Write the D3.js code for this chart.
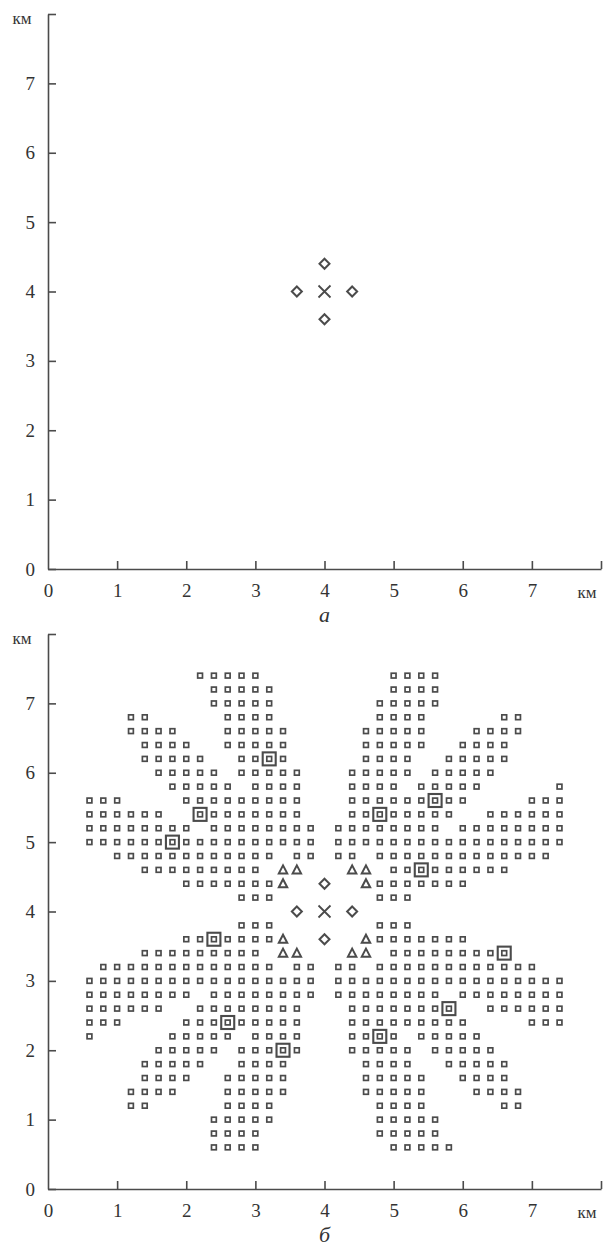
<!DOCTYPE html>
<html>
<head>
<meta charset="utf-8">
<script src="https://cdn.jsdelivr.net/npm/d3@7"></script>
<style>
  body { margin: 0; background: #fff; }
  svg { display: block; }
</style>
</head>
<body>
<svg id="chart" width="603" height="1247"></svg>
<script>
// tick labels (km)
var tickValues = [0, 1, 2, 3, 4, 5, 6, 7, 8];
var panelLabels = ["а", "б"];

// centre of the array and the four diamond points
var centre = [[4, 4]];
var diamonds = [[3.6, 4], [4.4, 4], [4, 4.4], [4, 3.6]];

// triangles around the centre (panel б)
var triangles = [
  [3.4, 4.6], [3.6, 4.6], [3.4, 4.4],
  [4.4, 4.6], [4.6, 4.6], [4.6, 4.4],
  [3.4, 3.6], [3.4, 3.4], [3.6, 3.4],
  [4.6, 3.6], [4.4, 3.4], [4.6, 3.4]
];

// big framed squares (panel б)
var bigSquares = [
  [3.2, 6.2], [2.2, 5.4], [1.8, 5.0], [5.6, 5.6], [4.8, 5.4], [5.4, 4.6],
  [2.4, 3.6], [2.6, 2.4], [3.4, 2.0], [4.8, 2.2], [5.8, 2.6], [6.6, 3.4]
];

// small squares, row by row: [y, x values]
var gridRows = [
  [7.4, [2.2, 2.4, 2.6, 2.8, 3.0, 5.0, 5.2, 5.4, 5.6]],
  [7.2, [2.4, 2.6, 2.8, 3.0, 3.2, 5.0, 5.2, 5.4, 5.6]],
  [7.0, [2.4, 2.6, 2.8, 3.0, 3.2, 4.8, 5.0, 5.2, 5.4, 5.6]],
  [6.8, [1.2, 1.4, 2.6, 2.8, 3.0, 3.2, 4.8, 5.0, 5.2, 5.4, 6.6, 6.8]],
  [6.6, [1.2, 1.4, 1.6, 1.8, 2.6, 2.8, 3.0, 3.2, 3.4, 4.6, 4.8, 5.0, 5.2, 5.4, 6.2, 6.4, 6.6, 6.8]],
  [6.4, [1.4, 1.6, 1.8, 2.0, 2.6, 2.8, 3.0, 3.2, 3.4, 4.6, 4.8, 5.0, 5.2, 5.4, 6.0, 6.2, 6.4, 6.6]],
  [6.2, [1.4, 1.6, 1.8, 2.0, 2.2, 2.8, 3.0, 3.2, 3.4, 4.6, 4.8, 5.0, 5.2, 5.8, 6.0, 6.2, 6.4, 6.6]],
  [6.0, [1.6, 1.8, 2.0, 2.2, 2.4, 2.8, 3.0, 3.2, 3.4, 3.6, 4.4, 4.6, 4.8, 5.0, 5.2, 5.6, 5.8, 6.0, 6.2, 6.4]],
  [5.8, [1.8, 2.0, 2.2, 2.4, 2.6, 3.0, 3.2, 3.4, 3.6, 4.4, 4.6, 4.8, 5.0, 5.4, 5.6, 5.8, 6.0, 6.2, 7.4]],
  [5.6, [0.6, 0.8, 1.0, 2.0, 2.2, 2.4, 2.6, 2.8, 3.0, 3.2, 3.4, 3.6, 4.4, 4.6, 4.8, 5.0, 5.2, 5.4, 5.6, 5.8, 6.0, 7.0, 7.2, 7.4]],
  [5.4, [0.6, 0.8, 1.0, 1.2, 1.4, 1.6, 2.2, 2.4, 2.6, 2.8, 3.0, 3.2, 3.4, 3.6, 4.4, 4.6, 4.8, 5.0, 5.2, 5.4, 5.6, 5.8, 6.4, 6.6, 6.8, 7.0, 7.2, 7.4]],
  [5.2, [0.6, 0.8, 1.0, 1.2, 1.4, 1.6, 1.8, 2.0, 2.4, 2.6, 2.8, 3.0, 3.2, 3.4, 3.6, 3.8, 4.2, 4.4, 4.6, 4.8, 5.0, 5.2, 5.4, 5.6, 6.0, 6.2, 6.4, 6.6, 6.8, 7.0, 7.2, 7.4]],
  [5.0, [0.6, 0.8, 1.0, 1.2, 1.4, 1.6, 1.8, 2.0, 2.2, 2.4, 2.6, 2.8, 3.0, 3.2, 3.4, 3.6, 3.8, 4.2, 4.4, 4.6, 4.8, 5.0, 5.2, 5.4, 5.6, 5.8, 6.0, 6.2, 6.4, 6.6, 6.8, 7.0, 7.2, 7.4]],
  [4.8, [1.0, 1.2, 1.4, 1.6, 1.8, 2.0, 2.2, 2.4, 2.6, 2.8, 3.0, 3.2, 3.6, 3.8, 4.2, 4.4, 4.8, 5.0, 5.2, 5.4, 5.6, 5.8, 6.0, 6.2, 6.4, 6.6, 6.8, 7.0, 7.2]],
  [4.6, [1.4, 1.6, 1.8, 2.0, 2.2, 2.4, 2.6, 2.8, 3.0, 5.0, 5.2, 5.4, 5.6, 5.8, 6.0, 6.2, 6.4, 6.6]],
  [4.4, [2.0, 2.2, 2.4, 2.6, 2.8, 3.0, 3.2, 4.8, 5.0, 5.2, 5.4, 5.6, 5.8, 6.0]],
  [4.2, [2.8, 3.0, 3.2, 4.8, 5.0, 5.2]],
  [3.8, [2.8, 3.0, 3.2, 4.8, 5.0, 5.2]],
  [3.6, [2.0, 2.2, 2.4, 2.6, 2.8, 3.0, 3.2, 4.8, 5.0, 5.2, 5.4, 5.6, 5.8, 6.0]],
  [3.4, [1.4, 1.6, 1.8, 2.0, 2.2, 2.4, 2.6, 2.8, 3.0, 5.0, 5.2, 5.4, 5.6, 5.8, 6.0, 6.2, 6.4, 6.6]],
  [3.2, [0.8, 1.0, 1.2, 1.4, 1.6, 1.8, 2.0, 2.2, 2.4, 2.6, 2.8, 3.0, 3.2, 3.6, 3.8, 4.2, 4.4, 4.8, 5.0, 5.2, 5.4, 5.6, 5.8, 6.0, 6.2, 6.4, 6.6, 6.8, 7.0]],
  [3.0, [0.6, 0.8, 1.0, 1.2, 1.4, 1.6, 1.8, 2.0, 2.2, 2.4, 2.6, 2.8, 3.0, 3.2, 3.4, 3.6, 3.8, 4.2, 4.4, 4.6, 4.8, 5.0, 5.2, 5.4, 5.6, 5.8, 6.0, 6.2, 6.4, 6.6, 6.8, 7.0, 7.2, 7.4]],
  [2.8, [0.6, 0.8, 1.0, 1.2, 1.4, 1.6, 1.8, 2.0, 2.4, 2.6, 2.8, 3.0, 3.2, 3.4, 3.6, 3.8, 4.2, 4.4, 4.6, 4.8, 5.0, 5.2, 5.4, 5.6, 6.0, 6.2, 6.4, 6.6, 6.8, 7.0, 7.2, 7.4]],
  [2.6, [0.6, 0.8, 1.0, 1.2, 1.4, 1.6, 2.2, 2.4, 2.6, 2.8, 3.0, 3.2, 3.4, 3.6, 4.4, 4.6, 4.8, 5.0, 5.2, 5.4, 5.6, 5.8, 6.4, 6.6, 6.8, 7.0, 7.2, 7.4]],
  [2.4, [0.6, 0.8, 1.0, 2.0, 2.2, 2.4, 2.6, 2.8, 3.0, 3.2, 3.4, 3.6, 4.4, 4.6, 4.8, 5.0, 5.2, 5.4, 5.6, 5.8, 6.0, 7.0, 7.2, 7.4]],
  [2.2, [0.6, 1.8, 2.0, 2.2, 2.4, 2.6, 3.0, 3.2, 3.4, 3.6, 4.4, 4.6, 4.8, 5.0, 5.4, 5.6, 5.8, 6.0, 6.2]],
  [2.0, [1.6, 1.8, 2.0, 2.2, 2.4, 2.8, 3.0, 3.2, 3.4, 3.6, 4.4, 4.6, 4.8, 5.0, 5.2, 5.6, 5.8, 6.0, 6.2, 6.4]],
  [1.8, [1.4, 1.6, 1.8, 2.0, 2.2, 2.8, 3.0, 3.2, 3.4, 4.6, 4.8, 5.0, 5.2, 5.8, 6.0, 6.2, 6.4, 6.6]],
  [1.6, [1.4, 1.6, 1.8, 2.0, 2.6, 2.8, 3.0, 3.2, 3.4, 4.6, 4.8, 5.0, 5.2, 5.4, 6.0, 6.2, 6.4, 6.6]],
  [1.4, [1.2, 1.4, 1.6, 1.8, 2.6, 2.8, 3.0, 3.2, 3.4, 4.6, 4.8, 5.0, 5.2, 5.4, 6.2, 6.4, 6.6, 6.8]],
  [1.2, [1.2, 1.4, 2.6, 2.8, 3.0, 3.2, 4.8, 5.0, 5.2, 5.4, 6.6, 6.8]],
  [1.0, [2.4, 2.6, 2.8, 3.0, 3.2, 4.8, 5.0, 5.2, 5.4, 5.6]],
  [0.8, [2.4, 2.6, 2.8, 3.0, 4.8, 5.0, 5.2, 5.4, 5.6]],
  [0.6, [2.4, 2.6, 2.8, 3.0, 5.0, 5.2, 5.4, 5.6, 5.8]]
];

var ink = "#4b4b4b";
var textInk = "#333";
var serif = "Liberation Serif, Times New Roman, DejaVu Serif, serif";

var svg = d3.select("#chart")
  .attr("font-family", serif);

var x = d3.scaleLinear().domain([0, 8]).range([48, 601]);

// flatten the rows into points
var smallSquares = [];
gridRows.forEach(function (r) {
  r[1].forEach(function (v) { smallSquares.push([v, r[0]]); });
});

function drawPanel(top, bottom, label, full) {
  var y = d3.scaleLinear().domain([0, 8]).range([bottom, top]);
  var g = svg.append("g");

  // axes, ticks pointing inward
  var yAxis = d3.axisLeft(y)
    .tickValues(tickValues)
    .tickSizeInner(-8)
    .tickSizeOuter(0)
    .tickPadding(13)
    .tickFormat(function (d) { return d === 8 ? "" : d; });
  var xAxis = d3.axisBottom(x)
    .tickValues(tickValues)
    .tickSizeInner(-8)
    .tickSizeOuter(0)
    .tickPadding(15)
    .tickFormat(function (d) { return d === 8 ? "" : d; });

  var ya = g.append("g").attr("transform", "translate(" + x(0) + ",0)").call(yAxis);
  var xa = g.append("g").attr("transform", "translate(0," + y(0) + ")").call(xAxis);
  [ya, xa].forEach(function (a) {
    a.attr("font-family", serif).attr("font-size", 19);
    a.select(".domain").attr("stroke", ink).attr("stroke-width", 1.6);
    a.selectAll(".tick line").attr("stroke", ink).attr("stroke-width", 1.6);
    a.selectAll(".tick text").attr("fill", textInk);
  });
  xa.selectAll(".tick").filter(function (d) { return d === 0; }).select("line").remove();

  // unit labels
  g.append("text").attr("x", 22).attr("y", y(8) + 10)
    .attr("text-anchor", "middle").attr("font-size", 17)
    .attr("fill", textInk).text("км");
  g.append("text").attr("x", 587).attr("y", y(0) + 29)
    .attr("text-anchor", "middle").attr("font-size", 17)
    .attr("fill", textInk).text("км");

  // panel caption
  g.append("text").attr("x", x(4)).attr("y", y(0) + 53)
    .attr("text-anchor", "middle").attr("font-size", 22)
    .attr("font-style", "italic").attr("fill", textInk).text(label);

  if (full) {
    g.append("g").selectAll("rect")
      .data(smallSquares).enter().append("rect")
      .attr("x", function (d) { return x(d[0]) - 2.4; })
      .attr("y", function (d) { return y(d[1]) - 2.4; })
      .attr("width", 4.8).attr("height", 4.8)
      .attr("fill", "#fff").attr("stroke", ink).attr("stroke-width", 1.7);

    g.append("g").selectAll("rect")
      .data(bigSquares).enter().append("rect")
      .attr("x", function (d) { return x(d[0]) - 6.5; })
      .attr("y", function (d) { return y(d[1]) - 6.5; })
      .attr("width", 13).attr("height", 13)
      .attr("fill", "none").attr("stroke", ink).attr("stroke-width", 2.1);

    g.append("g").selectAll("path")
      .data(triangles).enter().append("path")
      .attr("transform", function (d) { return "translate(" + x(d[0]) + "," + y(d[1]) + ")"; })
      .attr("d", "M0,-4.5L4.2,3.5L-4.2,3.5Z")
      .attr("fill", "none").attr("stroke", ink).attr("stroke-width", 2);
  }

  g.append("g").selectAll("path")
    .data(diamonds).enter().append("path")
    .attr("transform", function (d) { return "translate(" + x(d[0]) + "," + y(d[1]) + ")"; })
    .attr("d", "M0,-5L5,0L0,5L-5,0Z")
    .attr("fill", "none").attr("stroke", ink).attr("stroke-width", 2);

  g.append("g").selectAll("path")
    .data(centre).enter().append("path")
    .attr("transform", function (d) { return "translate(" + x(d[0]) + "," + y(d[1]) + ")"; })
    .attr("d", "M-6,-6L6,6M-6,6L6,-6")
    .attr("fill", "none").attr("stroke", ink).attr("stroke-width", 1.8);
}

drawPanel(14, 569, panelLabels[0], false);
drawPanel(634, 1189, panelLabels[1], true);
</script>
</body>
</html>
